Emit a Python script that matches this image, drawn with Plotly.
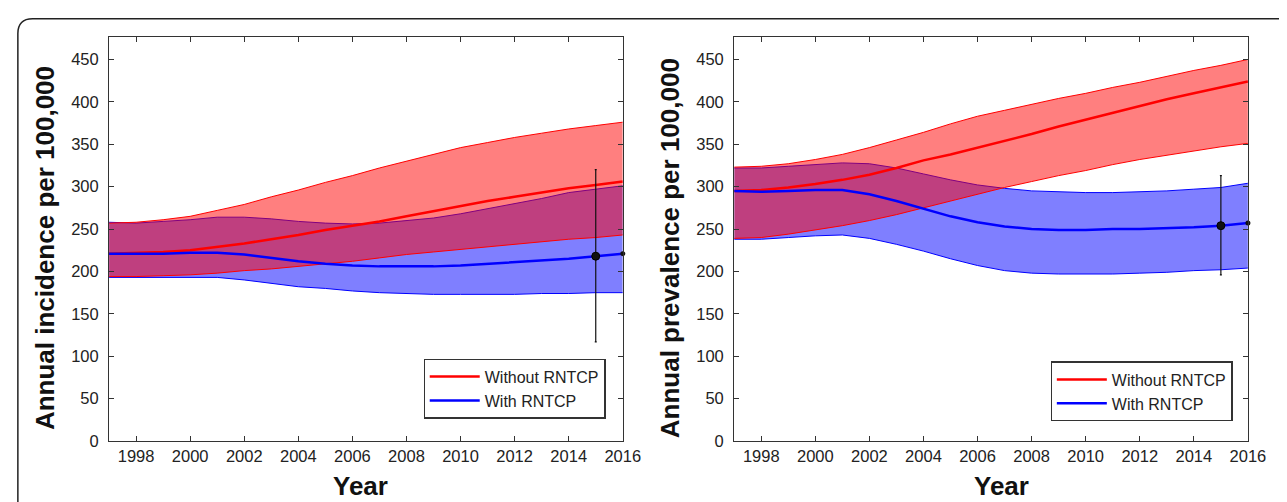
import plotly.graph_objects as go

years = list(range(1997, 2017))

# Incidence (left panel)
inc_without_med = [221, 222, 223, 225, 229, 233, 238, 243, 249, 254, 259, 265, 271, 277, 283, 288, 293, 298, 302, 306]
inc_without_hi = [257, 258, 261, 265, 272, 279, 288, 296, 305, 313, 322, 330, 338, 346, 352, 358, 363, 368, 372, 376]
inc_without_lo = [194, 194, 195, 196, 198, 201, 203, 206, 209, 212, 216, 220, 223, 226, 229, 232, 235, 238, 240, 243]
inc_with_med = [221, 221, 221, 222, 222, 220, 216, 212, 209, 207, 206, 206, 206, 207, 209, 211, 213, 215, 218, 221]
inc_with_hi = [258, 257, 259, 261, 264, 264, 262, 259, 257, 256, 257, 260, 263, 268, 274, 280, 286, 293, 297, 301]
inc_with_lo = [193, 193, 193, 193, 193, 190, 186, 182, 180, 177, 175, 174, 173, 173, 173, 173, 174, 174, 175, 175]
inc_obs_year = [2015]
inc_obs = [218]
inc_obs_hi = [320]
inc_obs_lo = [117]

# Prevalence (right panel)
prev_without_med = [295, 296, 299, 303, 308, 314, 322, 331, 338, 346, 354, 362, 371, 379, 387, 395, 403, 410, 417, 424]
prev_without_hi = [323, 324, 327, 332, 338, 346, 355, 364, 374, 383, 390, 397, 404, 410, 417, 423, 430, 437, 443, 450]
prev_without_lo = [239, 240, 244, 249, 254, 260, 267, 275, 283, 291, 299, 306, 313, 319, 326, 332, 337, 342, 347, 351]
prev_with_med = [295, 294, 295, 296, 296, 291, 283, 274, 265, 258, 253, 250, 249, 249, 250, 250, 251, 252, 254, 257]
prev_with_hi = [322, 322, 324, 326, 328, 327, 322, 315, 308, 302, 298, 295, 294, 293, 293, 294, 295, 297, 299, 304]
prev_with_lo = [238, 238, 240, 242, 243, 239, 232, 224, 215, 207, 201, 198, 197, 197, 197, 198, 199, 201, 202, 204]
prev_obs_year = [2015]
prev_obs = [254]
prev_obs_hi = [313]
prev_obs_lo = [196]

end_year = [2016]
inc_end = [221]
prev_end = [257]

x_ticks = list(range(1998, 2017, 2))
y_ticks = list(range(0, 451, 50))

RED = "#ff0000"
BLUE = "#0000ff"
W, H = 1287, 502

fig = go.Figure()


def add_panel(xa, ya, leg, w_med, w_hi, w_lo, b_med, b_hi, b_lo, oy, ov, ohi, olo, endv):
    # blue band first, red band over it
    for hi, lo, col, fc in [(b_hi, b_lo, BLUE, "rgba(0,0,255,0.5)"),
                            (w_hi, w_lo, RED, "rgba(255,0,0,0.5)")]:
        fig.add_trace(go.Scatter(x=years, y=lo, mode="lines", line=dict(color=col, width=1),
                                 xaxis=xa, yaxis=ya, showlegend=False, hoverinfo="skip"))
        fig.add_trace(go.Scatter(x=years, y=hi, mode="lines", line=dict(color=col, width=1),
                                 fill="tonexty", fillcolor=fc,
                                 xaxis=xa, yaxis=ya, showlegend=False, hoverinfo="skip"))
    fig.add_trace(go.Scatter(x=years, y=w_med, mode="lines", line=dict(color=RED, width=2.5),
                             name="Without RNTCP", legend=leg, xaxis=xa, yaxis=ya))
    fig.add_trace(go.Scatter(x=years, y=b_med, mode="lines", line=dict(color=BLUE, width=2.5),
                             name="With RNTCP", legend=leg, xaxis=xa, yaxis=ya))
    fig.add_trace(go.Scatter(
        x=oy, y=ov, mode="markers",
        marker=dict(color="#111", size=8, line=dict(color="#000", width=1)),
        error_y=dict(type="data", symmetric=False,
                     array=[h - v for h, v in zip(ohi, ov)],
                     arrayminus=[v - l for v, l in zip(ov, olo)],
                     color="#111", thickness=1.2, width=1),
        xaxis=xa, yaxis=ya, showlegend=False, hoverinfo="skip"))
    fig.add_trace(go.Scatter(x=end_year, y=endv, mode="markers",
                             marker=dict(color="#111", size=5),
                             xaxis=xa, yaxis=ya, showlegend=False, hoverinfo="skip", cliponaxis=False))


add_panel("x", "y", "legend", inc_without_med, inc_without_hi, inc_without_lo,
          inc_with_med, inc_with_hi, inc_with_lo, inc_obs_year, inc_obs, inc_obs_hi, inc_obs_lo, inc_end)
add_panel("x2", "y2", "legend2", prev_without_med, prev_without_hi, prev_without_lo,
          prev_with_med, prev_with_hi, prev_with_lo, prev_obs_year, prev_obs, prev_obs_hi, prev_obs_lo, prev_end)

FONT = "Liberation Sans, Arial, sans-serif"
ax_common = dict(showline=True, linecolor="#333", linewidth=1.2, mirror="ticks",
                 ticks="inside", ticklen=5, tickcolor="#333", tickwidth=1,
                 showgrid=False, zeroline=False,
                 tickfont=dict(family=FONT, size=16.5, color="#222"))


def px_x(p):
    return p / W


def px_y(p):
    return 1 - p / H


y_dom = [px_y(441), px_y(29.3)]
leg_common = dict(xanchor="right", yanchor="bottom", bordercolor="#333", borderwidth=1.2,
                  bgcolor="white", font=dict(family=FONT, size=16, color="#222"),
                  tracegroupgap=0, traceorder="normal", itemwidth=50)
fig.update_layout(
    width=W, height=H,
    margin=dict(l=0, r=0, t=0, b=0),
    paper_bgcolor="white", plot_bgcolor="white",
    xaxis=dict(domain=[px_x(102.5), px_x(623.5)], range=[1997, 2016], tickvals=x_ticks, anchor="y", **ax_common),
    yaxis=dict(domain=y_dom, range=[0, 476.7], tickvals=y_ticks, anchor="x", ticklabelstandoff=6, **ax_common),
    xaxis2=dict(domain=[px_x(736.5), px_x(1257.5)], range=[1997, 2016], tickvals=x_ticks, anchor="y2", **ax_common),
    yaxis2=dict(domain=y_dom, range=[0, 476.7], tickvals=y_ticks, anchor="x2", ticklabelstandoff=6, **ax_common),
    legend=dict(x=px_x(606), y=px_y(418), **leg_common),
    legend2=dict(x=px_x(1242), y=px_y(421), **leg_common),
    showlegend=True,
)

title_font = dict(family=FONT, size=26, color="#111")
fig.add_annotation(text="<b>Annual incidence per 100,000</b>", textangle=-90,
                   x=px_x(37), y=px_y(244), xref="paper", yref="paper",
                   showarrow=False, font=title_font, xanchor="center", yanchor="middle")
fig.add_annotation(text="<b>Annual prevalence per 100,000</b>", textangle=-90,
                   x=px_x(671), y=px_y(245), xref="paper", yref="paper",
                   showarrow=False, font=title_font, xanchor="center", yanchor="middle")
fig.add_annotation(text="<b>Year</b>", x=px_x(358), y=px_y(487), xref="paper", yref="paper",
                   showarrow=False, font=title_font, xanchor="center", yanchor="middle")
fig.add_annotation(text="<b>Year</b>", x=px_x(1008), y=px_y(487), xref="paper", yref="paper",
                   showarrow=False, font=title_font, xanchor="center", yanchor="middle")

# outer rounded frame
r = 15
x0, y0 = 10, 11
path = (f"M {px_x(x0)},{px_y(H + 5)} L {px_x(x0)},{px_y(y0 + r)} "
        f"Q {px_x(x0)},{px_y(y0)} {px_x(x0 + r)},{px_y(y0)} L {px_x(W + 5)},{px_y(y0)}")
fig.add_shape(type="path", path=path, xref="paper", yref="paper",
              line=dict(color="#222", width=1.5))

fig.write_html("out.html")
